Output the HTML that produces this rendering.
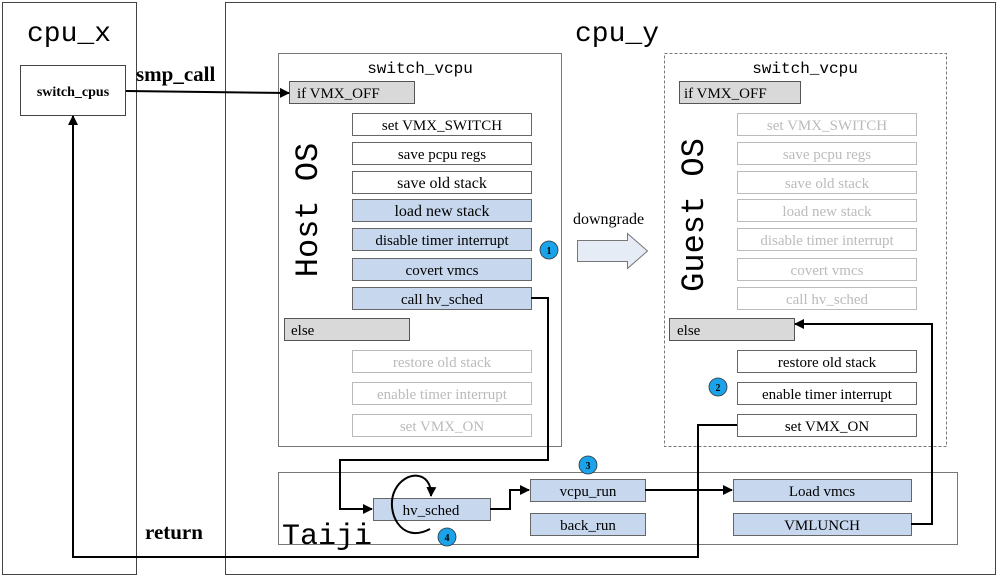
<!DOCTYPE html>
<html><head><style>body{margin:0;background:#fff}svg{display:block}</style></head><body>
<svg width="997" height="577" viewBox="0 0 997 577" xmlns="http://www.w3.org/2000/svg" font-family="Liberation Serif, serif">
<defs><marker id="a" markerWidth="10" markerHeight="10" refX="9" refY="5" orient="auto" markerUnits="userSpaceOnUse"><path d="M0,0 L10,5 L0,10 z" fill="#000"/></marker></defs>
<rect x="2.5" y="2.5" width="134" height="572" fill="none" stroke="#444"/>
<rect x="225.5" y="2.5" width="770" height="572" fill="none" stroke="#444"/>
<text x="27" y="41" font-family="Liberation Mono, monospace" font-size="28">cpu_x</text>
<text x="575" y="41" font-family="Liberation Mono, monospace" font-size="28">cpu_y</text>
<rect x="20.5" y="65.5" width="105" height="50" fill="#fff" stroke="#444"/>
<text x="73" y="96" text-anchor="middle" font-size="14" font-weight="bold">switch_cpus</text>
<text x="136" y="81" font-size="21" font-weight="bold">smp_call</text>
<text x="145" y="539" font-size="21" font-weight="bold">return</text>
<rect x="278.5" y="53.5" width="283" height="393" fill="none" stroke="#777"/>
<rect x="664.5" y="53.5" width="282" height="393" fill="none" stroke="#777" stroke-dasharray="3,2"/>
<text x="420" y="73" text-anchor="middle" font-family="Liberation Mono, monospace" font-size="16">switch_vcpu</text>
<text x="805" y="73" text-anchor="middle" font-family="Liberation Mono, monospace" font-size="16">switch_vcpu</text>
<text transform="translate(317,210) rotate(-90)" text-anchor="middle" font-family="Liberation Mono, monospace" font-size="32">Host OS</text>
<text transform="translate(703,215) rotate(-90)" text-anchor="middle" font-family="Liberation Mono, monospace" font-size="32">Guest OS</text>
<g stroke="#555" font-size="15">
<rect x="289.5" y="81.5" width="125" height="22" fill="#d9d9d9"/><text x="297" y="98" stroke="none">if VMX_OFF</text>
<rect x="284.5" y="318.5" width="125" height="22" fill="#d9d9d9"/><text x="291" y="335" stroke="none">else</text>
<rect x="679.5" y="81.5" width="121" height="22" fill="#d9d9d9"/><text x="684" y="98" stroke="none">if VMX_OFF</text>
<rect x="669.5" y="318.5" width="125" height="22" fill="#d9d9d9"/><text x="677" y="335" stroke="none">else</text>
</g>
<g font-size="15" text-anchor="middle">
<g stroke="#666">
<rect x="352.5" y="113.5" width="179" height="22" fill="#fff"/>
<rect x="352.5" y="142.5" width="179" height="22" fill="#fff"/>
<rect x="352.5" y="171.5" width="179" height="22" fill="#fff"/>
<rect x="352.5" y="199.5" width="179" height="22" fill="#c6d7ee"/>
<rect x="352.5" y="228.5" width="179" height="22" fill="#c6d7ee"/>
<rect x="352.5" y="258.5" width="179" height="22" fill="#c6d7ee"/>
<rect x="352.5" y="287.5" width="179" height="22" fill="#c6d7ee"/>
</g>
<g stroke="#bbb" fill="#fff">
<rect x="352.5" y="350.5" width="179" height="22"/><rect x="352.5" y="382.5" width="179" height="22"/><rect x="352.5" y="414.5" width="179" height="22"/>
<rect x="737.5" y="113.5" width="179" height="22"/><rect x="737.5" y="142.5" width="179" height="22"/><rect x="737.5" y="171.5" width="179" height="22"/><rect x="737.5" y="199.5" width="179" height="22"/><rect x="737.5" y="228.5" width="179" height="22"/><rect x="737.5" y="258.5" width="179" height="22"/><rect x="737.5" y="287.5" width="179" height="22"/>
</g>
<g stroke="#666" fill="#fff"><rect x="737.5" y="350.5" width="179" height="22"/><rect x="737.5" y="382.5" width="179" height="22"/><rect x="737.5" y="414.5" width="179" height="22"/></g>
<text x="442" y="130">set VMX_SWITCH</text><text x="442" y="159">save pcpu regs</text><text x="442" y="188" font-size="16">save old stack</text><text x="442" y="216" font-size="16">load new stack</text><text x="442" y="245">disable timer interrupt</text><text x="442" y="275">covert vmcs</text><text x="442" y="304">call hv_sched</text>
<g fill="#bbb"><text x="442" y="367">restore old stack</text><text x="442" y="399">enable timer interrupt</text><text x="442" y="431">set VMX_ON</text>
<text x="827" y="130">set VMX_SWITCH</text><text x="827" y="159">save pcpu regs</text><text x="827" y="188">save old stack</text><text x="827" y="216">load new stack</text><text x="827" y="245">disable timer interrupt</text><text x="827" y="275">covert vmcs</text><text x="827" y="304">call hv_sched</text></g>
<text x="827" y="367">restore old stack</text><text x="827" y="399">enable timer interrupt</text><text x="827" y="431">set VMX_ON</text>
</g>
<text x="573" y="224" font-size="16">downgrade</text>
<path d="M577.5,240.5 H627.5 V233.5 L647.5,251 L627.5,268.5 V261.5 H577.5 Z" fill="#e6ecf6" stroke="#777"/>
<rect x="278.5" y="472.5" width="679" height="72" fill="none" stroke="#777"/>
<text x="282" y="544" font-family="Liberation Mono, monospace" font-size="30">Taiji</text>
<g stroke="#666" fill="#c6d7ee"><rect x="373.5" y="498.5" width="117" height="22"/><rect x="530.5" y="479.5" width="115" height="22"/><rect x="530.5" y="513.5" width="115" height="22"/><rect x="733.5" y="479.5" width="178" height="22"/><rect x="733.5" y="513.5" width="178" height="22"/></g>
<g font-size="15" text-anchor="middle"><text x="431" y="515">hv_sched</text><text x="588" y="496">vcpu_run</text><text x="588" y="530">back_run</text><text x="822" y="496">Load vmcs</text><text x="822" y="530">VMLUNCH</text></g>
<g fill="none" stroke="#000" stroke-width="2">
<path d="M126,91 L289,93" marker-end="url(#a)"/>
<path d="M531,298 H548 V460 H340 V509 H372" marker-end="url(#a)"/>
<path d="M490,509 H510 V490 H529" marker-end="url(#a)"/>
<path d="M645,490 H732" marker-end="url(#a)"/>
<path d="M911,524 H932 V324 H795" marker-end="url(#a)"/>
<path d="M737,425 H698 V557 H73 V116" marker-end="url(#a)"/>
<path d="M430,529 C400,545 385,510 395,490 C405,470 432,470 431,496" marker-end="url(#a)"/>
</g>
<g fill="#1aa3e8" stroke="#333" stroke-width="0.8"><circle cx="549" cy="250" r="9"/><circle cx="718" cy="387" r="9"/><circle cx="588" cy="465" r="9"/><circle cx="447" cy="537" r="9"/></g>
<g font-size="10" font-weight="bold" text-anchor="middle"><text x="549" y="254">1</text><text x="718" y="391">2</text><text x="588" y="469">3</text><text x="447" y="541">4</text></g>
</svg>
</body></html>
